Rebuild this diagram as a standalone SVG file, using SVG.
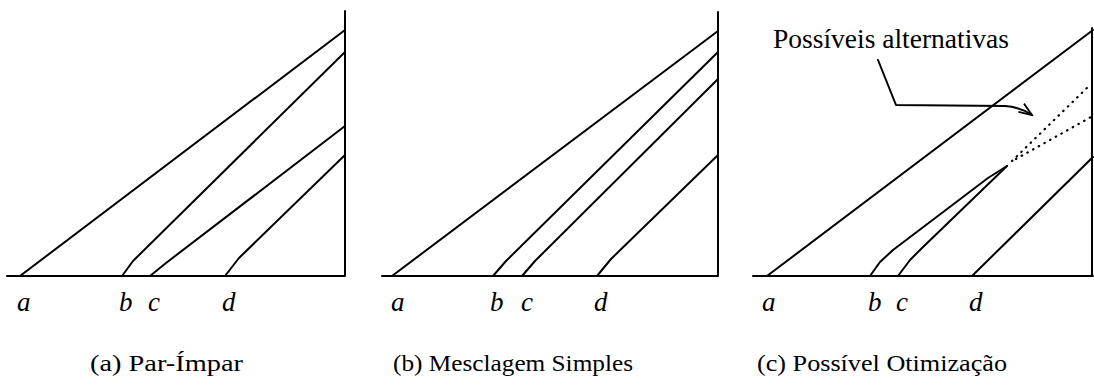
<svg xmlns="http://www.w3.org/2000/svg" width="1094" height="391" viewBox="0 0 1094 391">
<defs>
<style>
.ln{fill:none;stroke:#000;stroke-width:2;stroke-linejoin:round;stroke-linecap:round}
.dot{fill:none;stroke:#000;stroke-width:2.2;stroke-dasharray:0.5 6;stroke-linecap:round}
.lbl{font-style:italic;font-size:27px;fill:#000}
.cap{font-size:24px;fill:#000}
.ann{font-size:27px;fill:#000}
</style>
<marker id="arr" markerWidth="16" markerHeight="12" refX="14" refY="6" orient="auto" markerUnits="userSpaceOnUse">
<path d="M1,1 L14,6 L1,11" fill="none" stroke="#000" stroke-width="1.8"/>
</marker>
</defs>
<g id="panel-a" font-family="'Liberation Serif', 'Times New Roman', serif">
<path class="ln" d="M7,276 H345 M345,11 V276"/>
<path class="ln" d="M20,276 L345,30"/>
<path class="ln" d="M122,276 L133,261 L345,52"/>
<path class="ln" d="M150,276 L166,263 L345,126"/>
<path class="ln" d="M225,276 L239,258 L345,155"/>
<text class="lbl" x="17" y="311">a</text>
<text class="lbl" x="119" y="311">b</text>
<text class="lbl" x="148" y="311">c</text>
<text class="lbl" x="222" y="311">d</text>
<text class="cap" x="90" y="371" textLength="153" lengthAdjust="spacingAndGlyphs">(a) Par-Ímpar</text>
</g>
<g id="panel-b" font-family="'Liberation Serif', 'Times New Roman', serif">
<path class="ln" d="M382,276 H718 M718,12 V276"/>
<path class="ln" d="M392,276 L718,31"/>
<path class="ln" d="M493,276 L506,261 L718,52"/>
<path class="ln" d="M522,276 L535,261 L718,79"/>
<path class="ln" d="M597,276 L611,259 L718,155"/>
<text class="lbl" x="391" y="311">a</text>
<text class="lbl" x="490" y="311">b</text>
<text class="lbl" x="521" y="311">c</text>
<text class="lbl" x="594" y="311">d</text>
<text class="cap" x="393" y="371" textLength="240" lengthAdjust="spacingAndGlyphs">(b) Mesclagem Simples</text>
</g>
<g id="panel-c" font-family="'Liberation Serif', 'Times New Roman', serif">
<path class="ln" d="M753,276 H1093 M1092,28 V276"/>
<path class="ln" d="M767,276 L1093,30"/>
<path class="ln" d="M870,276 L880,262 L893,250 L988,178 L1007,166"/>
<path class="ln" d="M898,276 L910,260 L922,248 L1007,166"/>
<path class="dot" d="M1012,161 L1091,84"/>
<path class="dot" d="M1016,159 L1091,117"/>
<path class="ln" d="M972,276 L1093,157"/>
<text class="lbl" x="762" y="311">a</text>
<text class="lbl" x="868" y="311">b</text>
<text class="lbl" x="896" y="311">c</text>
<text class="lbl" x="969" y="311">d</text>
<text class="cap" x="757" y="371" textLength="250" lengthAdjust="spacingAndGlyphs">(c) Possível Otimização</text>
</g>
<g id="annotation" font-family="'Liberation Serif', 'Times New Roman', serif">
<text class="ann" x="773" y="48" textLength="236" lengthAdjust="spacingAndGlyphs">Possíveis alternativas</text>
</g>
<g id="connectors">
<path class="ln" d="M878,60 L896,105 L1005,106 Q1020,107 1032,115" marker-end="url(#arr)"/>
</g>
</svg>
